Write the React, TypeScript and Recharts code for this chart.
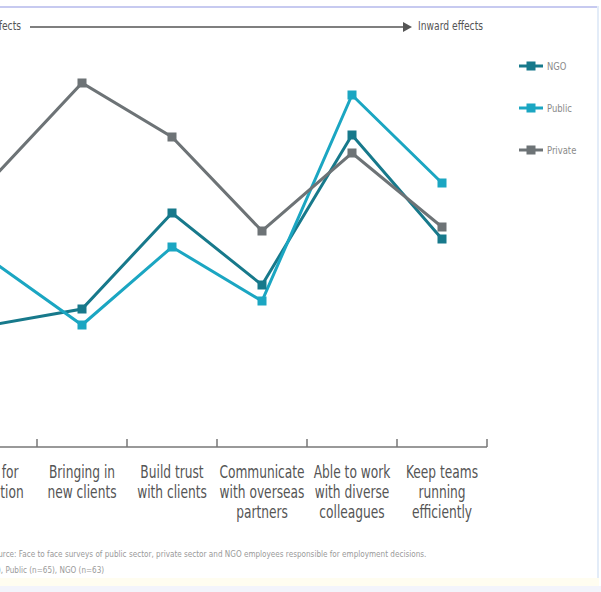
import React from "react";
import { LineChart, Line, XAxis, YAxis, Legend } from "recharts";

const categories = [
  "Good for\nreputation",
  "Bringing in\nnew clients",
  "Build trust\nwith clients",
  "Communicate\nwith overseas\npartners",
  "Able to work\nwith diverse\ncolleagues",
  "Keep teams\nrunning\nefficiently",
];
const ngoValues = [30.5, 34.5, 58.5, 40.5, 78, 52];
const publicValues = [46.5, 30.5, 50, 36.5, 88, 66];
const privateValues = [67, 91, 77.5, 54, 73.5, 55];

const data = categories.map((label, i) => ({
  label,
  NGO: ngoValues[i],
  Public: publicValues[i],
  Private: privateValues[i],
}));

const COLORS = { NGO: "#17798b", Public: "#1ba6c2", Private: "#6d7376" };
const FONT = '"Liberation Sans Narrow", "DejaVu Sans Condensed", "Liberation Sans", sans-serif';

const PLOT_W = 540;
const BAND = PLOT_W / categories.length;

const squareDot = (color: string) => (props: any) => {
  const { cx, cy, index } = props;
  if (cx == null || cy == null) return <g key={index} />;
  return <rect key={index} x={cx - 4.5} y={cy - 4.5} width={9} height={9} fill={color} />;
};

const CategoryTick = (props: any) => {
  const { x, y, payload, index } = props;
  const lines = String(payload.value).split("\n");
  const last = index === categories.length - 1;
  return (
    <g>
      <line x1={x - BAND / 2} y1={y} x2={x - BAND / 2} y2={y - 8} stroke="#777" strokeWidth={1.5} />
      {last && <line x1={x + BAND / 2} y1={y} x2={x + BAND / 2} y2={y - 8} stroke="#777" strokeWidth={1.5} />}
      <g transform={`translate(${x},${y}) scale(0.8,1)`}>
        <text x={0} y={0} textAnchor="middle" fill="#555" fontSize={17} fontFamily={FONT}>
          {lines.map((line, i) => (
            <tspan key={i} x={0} y={31 + i * 20}>
              {line}
            </tspan>
          ))}
        </text>
      </g>
    </g>
  );
};

const LegendContent = () => (
  <div style={{ fontFamily: FONT, fontSize: 11, color: "#8a8a8a" }}>
    {(["NGO", "Public", "Private"] as const).map((k) => (
      <div key={k} style={{ display: "flex", alignItems: "center", height: 42 }}>
        <svg width={24} height={12} style={{ marginRight: 4 }}>
          <line x1={0} y1={6} x2={24} y2={6} stroke={COLORS[k]} strokeWidth={3} />
          <rect x={7.5} y={1.5} width={9} height={9} fill={COLORS[k]} />
        </svg>
        <span style={{ display: "inline-block", transform: "scaleX(0.85)", transformOrigin: "left" }}>{k}</span>
      </div>
    ))}
  </div>
);

const squeezed = (origin: string): React.CSSProperties => ({
  transform: "scaleX(0.85)",
  transformOrigin: origin,
});

export default function App() {
  return (
    <div
      style={{
        position: "absolute",
        left: 0,
        top: 0,
        width: 601,
        height: 592,
        overflow: "hidden",
        background: "#fff",
        fontFamily: FONT,
      }}
    >
      <div style={{ position: "absolute", left: 0, top: 6, width: 599, height: 2, background: "#c7caf0" }} />
      <div style={{ position: "absolute", left: 597, top: 6, width: 2, height: 580, background: "#e3ecf8" }} />
      <div style={{ position: "absolute", left: 0, top: 578, width: 599, height: 8, background: "#fffdf0" }} />
      <div style={{ position: "absolute", left: 0, top: 586, width: 601, height: 6, background: "#f3f4fb" }} />

      <div
        style={{
          position: "absolute",
          right: 601 - 21,
          top: 19,
          fontSize: 12,
          color: "#555",
          whiteSpace: "nowrap",
          ...squeezed("right"),
        }}
      >
        Outward effects
      </div>
      <svg style={{ position: "absolute", left: 0, top: 20 }} width={601} height={16}>
        <line x1={30} y1={7} x2={406} y2={7} stroke="#555" strokeWidth={1.5} />
        <polygon points="403,2 412,7 403,12" fill="#555" />
      </svg>
      <div
        style={{
          position: "absolute",
          left: 418,
          top: 19,
          fontSize: 12,
          color: "#555",
          whiteSpace: "nowrap",
          ...squeezed("left"),
        }}
      >
        Inward effects
      </div>

      <div style={{ position: "absolute", left: -63, top: 0 }}>
        <LineChart width={664} height={527} data={data} margin={{ top: 47, right: 114, bottom: 0, left: 10 }}>
          <XAxis
            dataKey="label"
            scale="band"
            interval={0}
            height={80}
            tickSize={0}
            tickMargin={0}
            axisLine={{ stroke: "#777", strokeWidth: 1.5 }}
            tickLine={false}
            tick={<CategoryTick />}
          />
          <YAxis domain={[0, 100]} hide />
          <Legend
            layout="vertical"
            align="center"
            verticalAlign="middle"
            content={<LegendContent />}
            wrapperStyle={{ left: 582, top: 45, width: 80 }}
          />
          <Line
            dataKey="NGO"
            stroke={COLORS.NGO}
            strokeWidth={3}
            dot={squareDot(COLORS.NGO)}
            activeDot={false}
            isAnimationActive={false}
          />
          <Line
            dataKey="Public"
            stroke={COLORS.Public}
            strokeWidth={3}
            dot={squareDot(COLORS.Public)}
            activeDot={false}
            isAnimationActive={false}
          />
          <Line
            dataKey="Private"
            stroke={COLORS.Private}
            strokeWidth={3}
            dot={squareDot(COLORS.Private)}
            activeDot={false}
            isAnimationActive={false}
          />
        </LineChart>
      </div>

      <div
        style={{
          position: "absolute",
          right: 601 - 426,
          top: 548,
          fontSize: 9.5,
          color: "#999",
          whiteSpace: "nowrap",
          ...squeezed("right"),
        }}
      >
        Source: Face to face surveys of public sector, private sector and NGO employees responsible for employment decisions.
      </div>
      <div
        style={{
          position: "absolute",
          right: 601 - 104,
          top: 564,
          fontSize: 9.5,
          color: "#999",
          whiteSpace: "nowrap",
          ...squeezed("right"),
        }}
      >
        Private (n=62), Public (n=65), NGO (n=63)
      </div>
    </div>
  );
}
